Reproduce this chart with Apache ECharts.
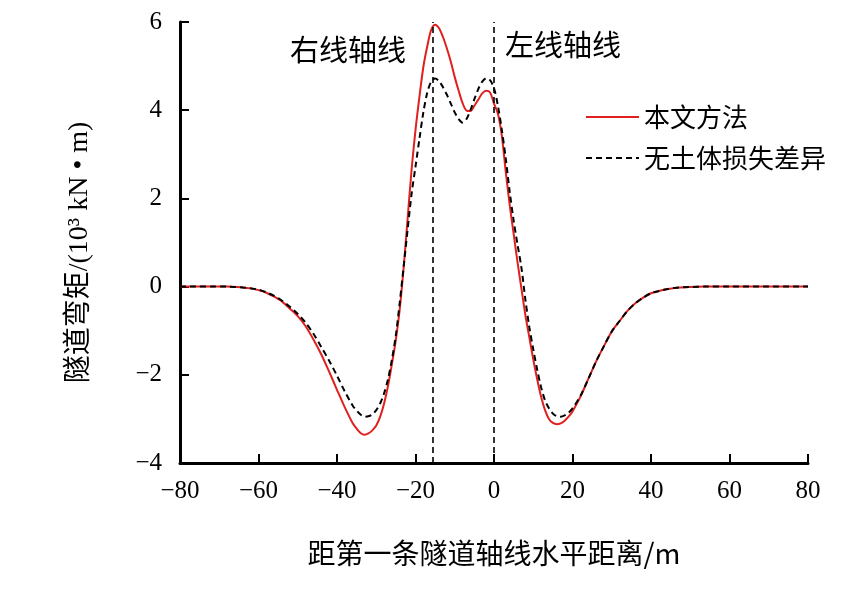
<!DOCTYPE html>
<html>
<head>
<meta charset="utf-8">
<title>隧道弯矩</title>
<script src="https://cdn.jsdelivr.net/npm/echarts@6/dist/echarts.min.js"></script>
<style>
html, body { margin: 0; padding: 0; background: #fff; }
#main { width: 861px; height: 611px; }
</style>
</head>
<body>
<div id="main"></div>
<script>
// 横坐标（两条曲线共用）
var xValues = [-80, -76, -72, -68, -64, -62, -60, -58, -56, -54, -52, -50, -48, -46, -44, -42, -40, -38, -36, -35, -34, -33, -32, -31, -30, -29, -28, -27, -26, -25, -24, -23, -22, -21, -20, -19, -18, -17, -16, -15, -14, -13, -12, -11, -10, -9, -8, -7, -6, -5, -4, -3, -2, -1, 0, 1, 2, 3, 4, 5, 6, 7, 8, 9, 10, 11, 12, 13, 14, 15, 16, 17, 18, 19, 20, 22, 24, 26, 28, 30, 32, 34, 36, 38, 40, 42, 44, 46, 50, 54, 60, 70, 80];

// 本文方法
var redY = [0, 0, 0, 0, -0.02, -0.04, -0.08, -0.14, -0.23, -0.34, -0.5, -0.67, -0.9, -1.2, -1.54, -1.93, -2.34, -2.74, -3.1, -3.22, -3.32, -3.36, -3.33, -3.26, -3.15, -2.95, -2.65, -2.25, -1.75, -1.2, -0.5, 0.45, 1.55, 2.65, 3.55, 4.3, 4.98, 5.45, 5.82, 5.94, 5.86, 5.66, 5.4, 5.1, 4.75, 4.44, 4.16, 3.99, 3.98, 4.1, 4.24, 4.38, 4.44, 4.4, 4.15, 3.92, 3.42, 2.6, 1.85, 1.2, 0.55, -0.05, -0.65, -1.15, -1.65, -2.1, -2.5, -2.8, -3.0, -3.09, -3.12, -3.1, -3.04, -2.95, -2.83, -2.5, -2.1, -1.7, -1.35, -1.02, -0.78, -0.55, -0.38, -0.25, -0.15, -0.1, -0.06, -0.03, -0.01, 0, 0, 0, 0];

// 无土体损失差异
var blackY = [0, 0, 0, 0, -0.02, -0.04, -0.07, -0.13, -0.21, -0.32, -0.46, -0.62, -0.82, -1.07, -1.37, -1.68, -2.02, -2.38, -2.7, -2.81, -2.9, -2.95, -2.94, -2.9, -2.8, -2.65, -2.42, -2.1, -1.65, -1.1, -0.35, 0.47, 1.3, 2.1, 2.72, 3.35, 3.95, 4.4, 4.65, 4.72, 4.66, 4.52, 4.35, 4.15, 3.95, 3.8, 3.72, 3.8, 4.0, 4.25, 4.48, 4.65, 4.72, 4.68, 4.5, 4.1, 3.55, 2.9, 2.15, 1.5, 0.95, 0.42, -0.3, -0.92, -1.42, -1.88, -2.28, -2.58, -2.76, -2.88, -2.94, -2.95, -2.92, -2.86, -2.76, -2.48, -2.1, -1.7, -1.35, -1.02, -0.78, -0.55, -0.38, -0.25, -0.15, -0.1, -0.06, -0.03, -0.01, 0, 0, 0, 0];

// 两条隧道轴线位置
var axisLines = [-15.7, 0];
var axisNames = ['右线轴线', '左线轴线'];

var seriesNames = ['本文方法', '无土体损失差异'];
var xTicks = { min: -80, max: 80, interval: 20 };
var yTicks = { min: -4, max: 6, interval: 2 };

var serifFont = '"Liberation Serif", "Times New Roman", "Noto Sans CJK SC", serif';
var cjkFont = '"Noto Sans CJK SC", "Liberation Serif", sans-serif';

// 组合成坐标对
var toPairs = function(xs, ys) {
	var results = [];
	for (var i = 0; i < xs.length; i++) {
		results.push([xs[i], ys[i]]);
	}
	return results;
};

var minusLabel = function(value) {
	if (value < 0) {
		return '\u2212' + Math.abs(value);
	}
	return '' + value;
};

var myChart = echarts.init(document.getElementById('main'), null, { renderer: 'canvas' });
var option = {
	backgroundColor: '#ffffff',
	animation: false,
	grid: {
		left: 180,
		right: 53,
		top: 22,
		bottom: 148
	},
	legend: {
		left: 580,
		top: 99,
		orient: 'vertical',
		itemWidth: 53,
		itemHeight: 14,
		itemGap: 15,
		itemStyle: { opacity: 0 },
		data: seriesNames,
		textStyle: {
			fontFamily: cjkFont,
			fontSize: 26,
			color: '#000'
		}
	},
	xAxis: {
		type: 'value',
		min: xTicks.min,
		max: xTicks.max,
		interval: xTicks.interval,
		name: '距第一条隧道轴线水平距离/m',
		nameLocation: 'middle',
		nameGap: 76,
		nameTextStyle: {
			fontFamily: cjkFont,
			fontSize: 28,
			color: '#000'
		},
		axisLine: { onZero: false, lineStyle: { color: '#000', width: 3 } },
		axisTick: { inside: true, length: 9, lineStyle: { color: '#000', width: 2 } },
		splitLine: { show: false },
		axisLabel: {
			margin: 16,
			fontFamily: serifFont,
			fontSize: 25,
			color: '#000',
			formatter: minusLabel
		}
	},
	yAxis: {
		type: 'value',
		min: yTicks.min,
		max: yTicks.max,
		interval: yTicks.interval,
		name: '隧道弯矩/(10³ kN • m)',
		nameLocation: 'middle',
		nameGap: 86,
		nameTextStyle: {
			fontFamily: serifFont,
			fontSize: 28,
			color: '#000',
			padding: [0, 20, 0, 0]
		},
		axisLine: { onZero: false, lineStyle: { color: '#000', width: 3 } },
		axisTick: { inside: true, length: 9, lineStyle: { color: '#000', width: 2 } },
		splitLine: { show: false },
		axisLabel: {
			margin: 18,
			fontFamily: serifFont,
			fontSize: 25,
			color: '#000',
			formatter: minusLabel
		}
	},
	series: [{
		name: seriesNames[0],
		type: 'line',
		smooth: 0.3,
		symbol: 'none',
		color: '#e0201f',
		lineStyle: { color: '#e0201f', width: 2 },
		data: toPairs(xValues, redY)
	}, {
		name: seriesNames[1],
		type: 'line',
		smooth: 0.3,
		symbol: 'none',
		color: '#000',
		lineStyle: { color: '#000', width: 2, type: [6, 4] },
		data: toPairs(xValues, blackY),
		markLine: {
			silent: true,
			symbol: 'none',
			label: { show: false },
			lineStyle: { color: '#000', width: 1.6, type: [6, 4] },
			data: [{ xAxis: axisLines[0] }, { xAxis: axisLines[1] }]
		}
	}],
	graphic: [{
		type: 'text',
		left: 290,
		top: 35,
		style: { text: axisNames[0], font: '29px ' + cjkFont, fill: '#000' }
	}, {
		type: 'text',
		left: 505,
		top: 30,
		style: { text: axisNames[1], font: '29px ' + cjkFont, fill: '#000' }
	}]
};
myChart.setOption(option);
</script>
</body>
</html>
